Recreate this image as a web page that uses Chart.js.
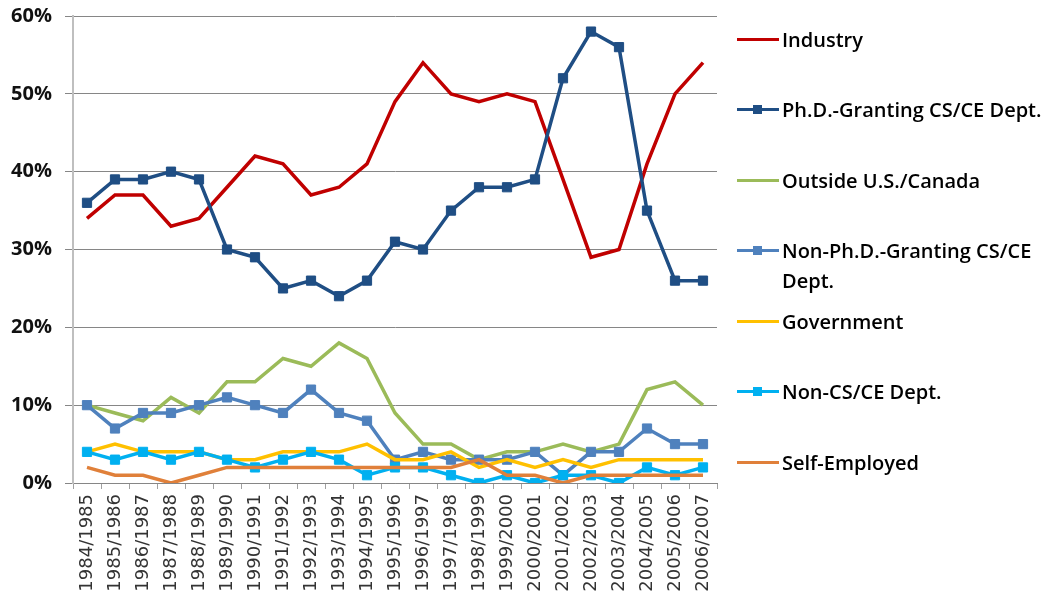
<!DOCTYPE html>
<html>
<head>
<meta charset="utf-8">
<script src="https://cdn.jsdelivr.net/npm/chart.js@4.4.1/dist/chart.umd.min.js"></script>
<style>
  html, body { margin: 0; padding: 0; background: #fff; }
  #wrap { position: relative; width: 1053px; height: 596px; overflow: hidden; }
  #c { position: absolute; left: 0; top: 0; }
  .leg { position: absolute; left: 737px; width: 316px; height: 30px; }
  .leg .ln { position: absolute; left: 0; top: 13px; width: 42px; height: 3px; }
  .leg .mk { position: absolute; left: 16px; top: 10px; width: 9px; height: 9px; }
  .leg .tx { position: absolute; left: 45px; top: 0; width: 271px; font-family: "Open Sans", sans-serif;
             font-weight: 600; font-size: 20px; line-height: 30px; color: #000; white-space: normal; }
</style>
</head>
<body>
<div id="wrap">
  <canvas id="c" width="1053" height="596"></canvas>
</div>
<script>
const categories = ["1984/1985","1985/1986","1986/1987","1987/1988","1988/1989","1989/1990","1990/1991",
  "1991/1992","1992/1993","1993/1994","1994/1995","1995/1996","1996/1997","1997/1998","1998/1999",
  "1999/2000","2000/2001","2001/2002","2002/2003","2003/2004","2004/2005","2005/2006","2006/2007"];

const industry   = [34,37,37,33,34,38,42,41,37,38,41,49,54,50,49,50,49,39,29,30,41,50,54];
const phdDept    = [36,39,39,40,39,30,29,25,26,24,26,31,30,35,38,38,39,52,58,56,35,26,26];
const outside    = [10,9,8,11,9,13,13,16,15,18,16,9,5,5,3,4,4,5,4,5,12,13,10];
const nonPhdDept = [10,7,9,9,10,11,10,9,12,9,8,3,4,3,3,3,4,1,4,4,7,5,5];
const government = [4,5,4,4,4,3,3,4,4,4,5,3,3,4,2,3,2,3,2,3,3,3,3];
const nonCsDept  = [4,3,4,3,4,3,2,3,4,3,1,2,2,1,0,1,0,1,1,0,2,1,2];
const selfEmp    = [2,1,1,0,1,2,2,2,2,2,2,2,2,2,3,1,1,0,1,1,1,1,1];

const seriesNames = ["Industry","Ph.D.-Granting CS/CE Dept.","Outside U.S./Canada",
  "Non-Ph.D.-Granting CS/CE Dept.","Government","Non-CS/CE Dept.","Self-Employed"];
const yTicks = [0,10,20,30,40,50,60];

const seriesValues = [industry, phdDept, outside, nonPhdDept, government, nonCsDept, selfEmp];
const colors = ["#C00000","#1F4E84","#9BBB59","#4F81BD","#FFC000","#00B0F0","#E0803A"];
const hasMarker = [false,true,false,true,false,true,false];

const datasets = seriesNames.map((name, i) => ({
  label: name,
  data: seriesValues[i],
  borderColor: colors[i],
  backgroundColor: colors[i],
  borderWidth: 3.5,
  tension: 0,
  pointStyle: 'rect',
  pointRadius: hasMarker[i] ? 6.5 : 0,
  pointHoverRadius: hasMarker[i] ? 6.5 : 0,
  pointBorderWidth: 1,
  pointBorderColor: colors[i],
  pointBackgroundColor: colors[i],
  order: seriesNames.length - i
}));

new Chart(document.getElementById('c'), {
  type: 'line',
  data: { labels: categories, datasets },
  options: {
    responsive: false,
    animation: false,
    events: [],
    layout: { padding: { left: 0, right: 336, top: 15, bottom: 0 } },
    plugins: { legend: { display: false }, tooltip: { enabled: false } },
    scales: {
      x: {
        offset: true,
        grid: { offset: true, drawOnChartArea: false, drawTicks: true, tickLength: 6, color: '#A0A0A0' },
        border: { color: '#868686', width: 1 },
        ticks: {
          autoSkip: false, minRotation: 90, maxRotation: 90, padding: 5,
          font: { family: 'DejaVu Sans', size: 18 }, color: '#333333'
        },
        afterFit: s => { s.height = 113; }
      },
      y: {
        min: 0, max: 60,
        afterBuildTicks: s => { s.ticks = yTicks.map(v => ({ value: v })); },
        grid: { color: '#868686', lineWidth: 1, tickLength: 8 },
        border: { color: '#BFBFBF', width: 2 },
        ticks: {
          padding: 13,
          font: { family: 'Open Sans', size: 20, weight: 'bold', lineHeight: 0.3 }, color: '#111111',
          callback: v => v + '%'
        },
        afterFit: s => { s.width = 73; }
      }
    }
  }
});

// HTML legend
const wrap = document.getElementById('wrap');
seriesNames.forEach((name, i) => {
  const d = document.createElement('div');
  d.className = 'leg';
  d.style.top = (39 + i * 70.5 - 14.5) + 'px';
  const ln = document.createElement('div');
  ln.className = 'ln';
  ln.style.background = colors[i];
  d.appendChild(ln);
  if (hasMarker[i]) {
    const mk = document.createElement('div');
    mk.className = 'mk';
    mk.style.background = colors[i];
    d.appendChild(mk);
  }
  const tx = document.createElement('div');
  tx.className = 'tx';
  tx.textContent = name;
  d.appendChild(tx);
  wrap.appendChild(d);
});
</script>
</body>
</html>
